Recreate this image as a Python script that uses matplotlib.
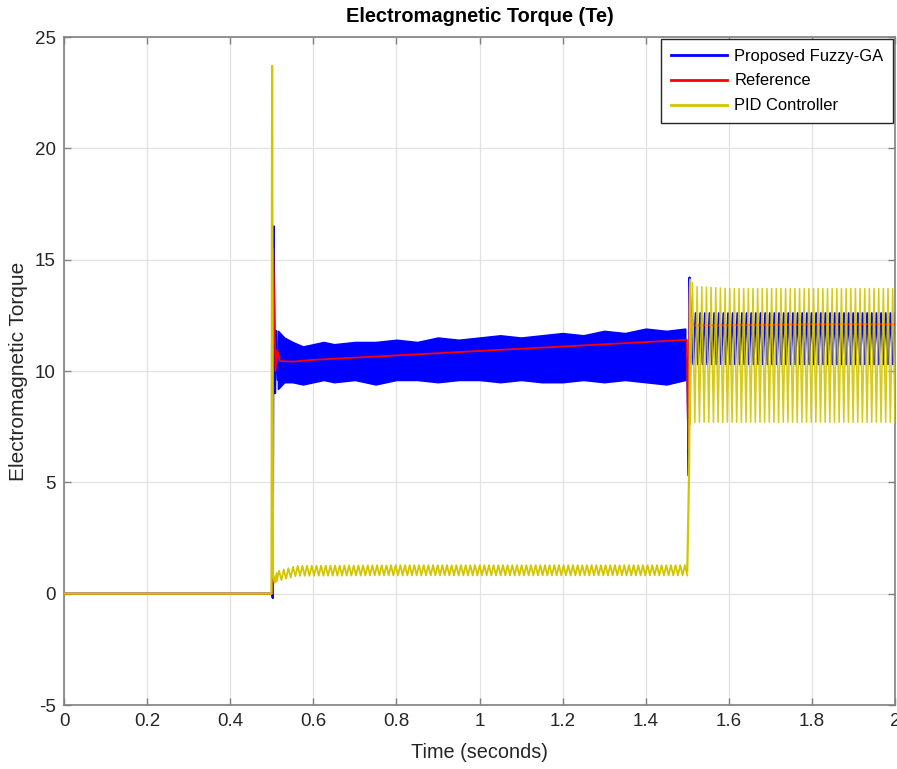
import numpy as np
import matplotlib
matplotlib.use('Agg')
import matplotlib.pyplot as plt

plt.rcParams['font.family'] = ['Liberation Sans', 'DejaVu Sans']
plt.rcParams['axes.unicode_minus'] = False

# ---- values (time in s, torque in N.m) ----
# Proposed Fuzzy-GA: start-up transient
fz_t = [0.0, 0.5, 0.5025, 0.5045, 0.508, 0.511, 0.5145, 0.52]
fz_v = [0.0, 0.0, -0.2, 16.5, 9.0, 11.8, 9.6, 11.3]
# Fuzzy-GA ripple band between the two steps
fz_band_t = [0.515, 0.53, 0.55, 0.575, 0.6, 0.625, 0.65, 0.7, 0.75, 0.8, 0.85, 0.9,
             0.95, 1.0, 1.05, 1.1, 1.15, 1.2, 1.25, 1.3, 1.35, 1.4, 1.45, 1.495]
fz_band_hi = [11.8, 11.5, 11.3, 11.1, 11.2, 11.3, 11.2, 11.3, 11.3, 11.4, 11.3, 11.5,
              11.4, 11.5, 11.6, 11.5, 11.6, 11.7, 11.6, 11.8, 11.7, 11.9, 11.8, 11.9]
fz_band_lo = [9.2, 9.5, 9.5, 9.4, 9.5, 9.6, 9.5, 9.6, 9.4, 9.6, 9.6, 9.5,
              9.6, 9.6, 9.5, 9.6, 9.5, 9.5, 9.6, 9.5, 9.6, 9.5, 9.4, 9.6]
# Fuzzy-GA load step
fz_step_t = [1.495, 1.5, 1.5035, 1.5055, 1.509]
fz_step_v = [10.6, 10.2, 5.3, 14.2, 10.4]
# Fuzzy-GA ripple after the load step
fz_r2_t = [1.509, 1.6, 1.8, 2.0]
fz_r2_hi = [12.6, 12.6, 12.6, 12.6]
fz_r2_lo = [10.3, 10.3, 10.3, 10.3]
fz_r2_cycles = 44

# Reference torque
ref_t = [0.0, 0.5, 0.5035, 0.509, 0.513, 0.52, 0.55, 0.6, 0.7, 0.8, 0.9,
         1.0, 1.1, 1.2, 1.3, 1.4, 1.499, 1.5025, 1.506, 1.51, 1.515, 1.6, 1.8, 2.0]
ref_v = [0.0, 0.0, 15.5, 10.0, 10.95, 10.45, 10.42, 10.5, 10.6, 10.7, 10.8,
         10.9, 11.0, 11.1, 11.2, 11.3, 11.4, 6.5, 13.8, 12.4, 12.05, 12.05, 12.1, 12.1]

# PID controller: start-up transient
pid_t = [0.0, 0.4995, 0.5008, 0.503, 0.507, 0.512]
pid_v = [0.0, 0.0, 23.7, 0.9, 0.5, 0.9]
# PID ripple before the load step
pid_r1_t = [0.512, 0.56, 0.8, 1.0, 1.2, 1.4, 1.5]
pid_r1_hi = [1.0, 1.25, 1.28, 1.28, 1.28, 1.28, 1.28]
pid_r1_lo = [0.55, 0.8, 0.82, 0.82, 0.82, 0.82, 0.82]
pid_r1_cycles = 88
# PID load step
pid_step_t = [1.5, 1.5045, 1.507]
pid_step_v = [1.0, 5.5, 14.1]
# PID ripple after the load step
pid_r2_t = [1.507, 1.52, 1.6, 1.8, 2.0]
pid_r2_hi = [14.1, 13.8, 13.7, 13.7, 13.7]
pid_r2_lo = [7.6, 7.7, 7.7, 7.7, 7.7]
pid_r2_cycles = 44

x_ticks = [0, 0.2, 0.4, 0.6, 0.8, 1, 1.2, 1.4, 1.6, 1.8, 2]
x_labels = ['0', '0.2', '0.4', '0.6', '0.8', '1', '1.2', '1.4', '1.6', '1.8', '2']
y_ticks = [-5, 0, 5, 10, 15, 20, 25]

BLUE = '#0000ff'
RED = '#ff0000'
YELLOW = '#d2c600'


def ripple(kt, hi, lo, cycles, start_low=True):
    # alternate between the read lower and upper envelopes
    n = 2 * cycles + 1
    t = np.linspace(kt[0], kt[-1], n)
    up = np.interp(t, kt, hi)
    dn = np.interp(t, kt, lo)
    even = np.arange(n) % 2 == 0
    v = np.where(even, dn, up) if start_low else np.where(even, up, dn)
    return t, v


fig = plt.figure(figsize=(8.97, 7.69), dpi=100)
ax = fig.add_axes([64 / 897, 1 - 705 / 769, 831 / 897, 668 / 769])

# Fuzzy-GA
ax.fill_between(fz_band_t, fz_band_lo, fz_band_hi, color=BLUE, lw=1.2, zorder=2)
ax.plot(fz_t, fz_v, color=BLUE, lw=1.5, zorder=2, label='Proposed Fuzzy-GA')
ax.plot(fz_step_t, fz_step_v, color=BLUE, lw=1.5, zorder=2)
t2, v2 = ripple(fz_r2_t, fz_r2_hi, fz_r2_lo, fz_r2_cycles, start_low=False)
ax.plot(t2, v2, color=BLUE, lw=1.4, zorder=2)

# Reference
ax.plot(ref_t, ref_v, color=RED, lw=1.3, zorder=3, label='Reference')

# PID
ax.plot(pid_t, pid_v, color=YELLOW, lw=1.6, zorder=4, label='PID Controller')
t1, v1 = ripple(pid_r1_t, pid_r1_hi, pid_r1_lo, pid_r1_cycles)
ax.plot(t1, v1, color=YELLOW, lw=1.3, zorder=4)
ax.plot(pid_step_t, pid_step_v, color=YELLOW, lw=1.6, zorder=4)
t3, v3 = ripple(pid_r2_t, pid_r2_hi, pid_r2_lo, pid_r2_cycles)
ax.plot(t3, v3, color=YELLOW, lw=1.15, zorder=4, alpha=0.9)

ax.set_xlim(0, 2)
ax.set_ylim(-5, 25)
ax.set_xticks(x_ticks)
ax.set_xticklabels(x_labels)
ax.set_yticks(y_ticks)
ax.grid(True, color='#e2e2e2', lw=0.9)
ax.set_axisbelow(True)
ax.tick_params(direction='in', length=5, width=1, colors='#808080',
               labelcolor='#262626', labelsize=13.5, top=True, right=True, pad=6)
for s in ax.spines.values():
    s.set_color('#808080')
    s.set_linewidth(1.2)

ax.set_xlabel('Time (seconds)', fontsize=14.3, color='#262626', labelpad=9)
ax.set_ylabel('Electromagnetic Torque', fontsize=15, color='#262626')
ax.yaxis.set_label_coords(-0.043, 0.5)
fig.text(479.5 / 897, 1 - 16 / 769, 'Electromagnetic Torque (Te)', fontsize=14.4,
         fontweight='bold', color='black', ha='center', va='center')

leg = ax.legend(loc='upper right', bbox_to_anchor=(1.0, 1.0), fontsize=11.9,
                fancybox=False, framealpha=1, edgecolor='#262626',
                handlelength=3.4, handletextpad=0.45, labelspacing=0.6,
                borderpad=0.6, borderaxespad=0.1)
leg.get_frame().set_linewidth(1.0)
for h in leg.get_lines():
    h.set_linewidth(2)

fig.savefig('out.png', dpi=100)
